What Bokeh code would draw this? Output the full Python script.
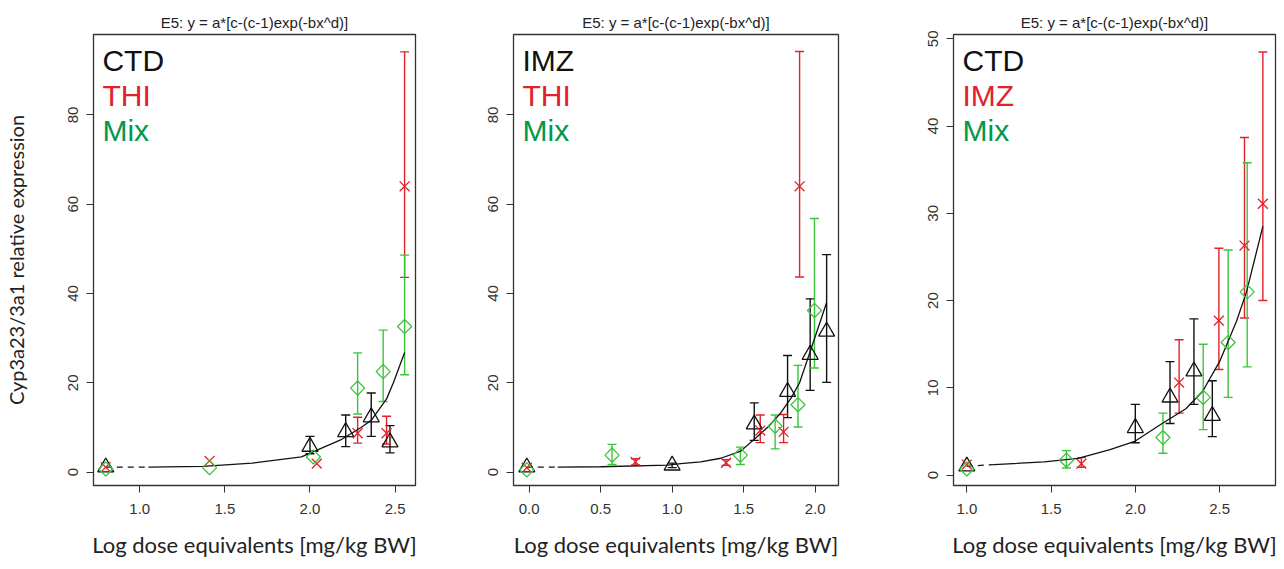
from bokeh.plotting import figure
from bokeh.layouts import row
from bokeh.models import (Range1d, FixedTicker, PrintfTickFormatter, Whisker, TeeHead,
                          ColumnDataSource, Label)
from bokeh.embed import file_html
from bokeh.resources import INLINE

TITLE = "E5: y = a*[c-(c-1)exp(-bx^d)]"
XLABEL = "Log dose equivalents [mg/kg BW]"
YLABEL = "Cyp3a23/3a1 relative expression"

# ---------------- Panel 1: CTD / THI / Mix ----------------
p1_names = ["CTD", "THI", "Mix"]
p1_ctd_x = [0.80, 2.00, 2.21, 2.36, 2.47]
p1_ctd_y = [1.1, 5.7, 9.0, 12.3, 6.7]
p1_ctd_lo = [1.1, 4.1, 5.7, 8.0, 4.3]
p1_ctd_hi = [1.1, 8.0, 12.8, 17.7, 10.4]
p1_thi_x = [0.80, 1.41, 2.04, 2.28, 2.45, 2.556]
p1_thi_y = [1.1, 2.5, 1.9, 8.7, 8.7, 64.0]
p1_thi_lo = [1.1, 2.5, 1.9, 6.5, 6.3, 43.6]
p1_thi_hi = [1.1, 2.5, 1.9, 12.3, 12.5, 94.1]
p1_mix_x = [0.80, 1.41, 2.02, 2.28, 2.43, 2.556]
p1_mix_y = [0.7, 1.0, 3.4, 18.8, 22.5, 32.6]
p1_mix_lo = [0.7, 1.0, 3.4, 13.0, 15.8, 21.8]
p1_mix_hi = [0.7, 1.0, 3.4, 26.7, 31.8, 48.6]
p1_curve_x = [0.80, 1.05, 1.37, 1.66, 1.95, 2.18, 2.30, 2.36, 2.45, 2.49, 2.556]
p1_curve_y = [1.1, 1.1, 1.3, 2.0, 3.4, 7.2, 10.0, 11.6, 16.4, 20.0, 26.8]
p1_xticks = [1.0, 1.5, 2.0, 2.5]
p1_yticks = [0, 20, 40, 60, 80]

# ---------------- Panel 2: IMZ / THI / Mix ----------------
p2_names = ["IMZ", "THI", "Mix"]
p2_imz_x = [-0.016, 1.00, 1.574, 1.807, 1.965, 2.08]
p2_imz_y = [1.1, 1.5, 10.7, 18.0, 26.3, 31.5]
p2_imz_lo = [1.1, 1.0, 7.1, 12.2, 18.3, 20.1]
p2_imz_hi = [1.1, 2.0, 15.5, 26.1, 38.8, 48.7]
p2_thi_x = [-0.016, 0.744, 1.377, 1.616, 1.779, 1.891]
p2_thi_y = [1.0, 2.3, 2.1, 9.3, 9.0, 64.0]
p2_thi_lo = [1.0, 1.6, 1.5, 6.6, 6.6, 43.7]
p2_thi_hi = [1.0, 3.0, 2.8, 12.8, 12.9, 94.2]
p2_mix_x = [-0.016, 0.58, 1.477, 1.72, 1.88, 1.995]
p2_mix_y = [0.5, 3.8, 3.8, 10.3, 15.1, 36.2]
p2_mix_lo = [0.5, 1.7, 1.7, 5.2, 10.1, 23.3]
p2_mix_hi = [0.5, 6.2, 5.6, 12.8, 23.9, 56.8]
p2_curve_x = [-0.016, 0.20, 0.50, 0.97, 1.06, 1.20, 1.34, 1.48, 1.59, 1.68, 1.76, 1.83, 1.891, 1.965, 2.08]
p2_curve_y = [1.1, 1.1, 1.2, 1.57, 1.9, 2.3, 3.1, 4.7, 7.8, 10.4, 13.3, 16.5, 20.0, 27.0, 38.0]
p2_xticks = [0.0, 0.5, 1.0, 1.5, 2.0]
p2_yticks = [0, 20, 40, 60, 80]

# ---------------- Panel 3: CTD / IMZ / Mix ----------------
p3_names = ["CTD", "IMZ", "Mix"]
p3_ctd_x = [1.00, 2.00, 2.206, 2.348, 2.457]
p3_ctd_y = [1.0, 5.4, 8.9, 11.9, 6.8]
p3_ctd_lo = [1.0, 3.7, 5.9, 8.1, 4.4]
p3_ctd_hi = [1.0, 8.1, 13.0, 17.9, 10.8]
p3_imz_x = [1.00, 1.68, 2.26, 2.496, 2.648, 2.757]
p3_imz_y = [1.2, 1.3, 10.6, 17.7, 26.3, 31.1]
p3_imz_lo = [1.2, 0.9, 7.1, 12.1, 18.0, 20.0]
p3_imz_hi = [1.2, 2.0, 15.5, 26.0, 38.7, 48.5]
p3_mix_x = [1.00, 1.591, 2.164, 2.403, 2.551, 2.664]
p3_mix_y = [0.7, 1.7, 4.3, 8.9, 15.2, 21.0]
p3_mix_lo = [0.7, 0.8, 2.5, 5.2, 8.9, 12.4]
p3_mix_hi = [0.7, 2.8, 7.1, 15.0, 25.8, 35.8]
p3_curve_x = [1.00, 1.16, 1.46, 1.66, 1.85, 2.00, 2.15, 2.30, 2.40, 2.50, 2.60, 2.66, 2.757]
p3_curve_y = [1.0, 1.2, 1.5, 1.9, 2.9, 3.9, 5.8, 7.6, 9.6, 13.0, 17.6, 21.0, 28.5]
p3_xticks = [1.0, 1.5, 2.0, 2.5]
p3_yticks = [0, 10, 20, 30, 40, 50]

BLACK = "#111111"
RED = "#E3212B"
GREEN = "#3DC43D"
GREEN_TXT = "#00984A"
TICK_FONT = "Liberation Sans"


def make_panel(names, series, curve_x, curve_y, xr, yr, xticks, yticks,
               bl, br, fw, ylabel=None):
    fh = 451
    bt, bb = 34, 80
    p = figure(width=bl + fw + br, height=bt + fh + bb, output_backend="svg",
               toolbar_location=None, x_range=Range1d(*xr), y_range=Range1d(*yr),
               min_border_left=bl, min_border_right=br, min_border_top=bt,
               min_border_bottom=bb, title=TITLE)
    p.title.text_font = "Liberation Sans"
    p.title.text_font_size = "15px"
    p.title.text_font_style = "normal"
    p.title.text_color = "#222222"
    p.title.align = "center"
    p.title.standoff = 8
    p.xgrid.visible = False
    p.ygrid.visible = False
    p.outline_line_color = "#333333"
    p.outline_line_width = 1.3
    p.background_fill_color = "white"
    p.border_fill_color = "white"

    for ax, ticks, fmt in ((p.xaxis[0], xticks, "%.1f"), (p.yaxis[0], yticks, "%d")):
        ax.ticker = FixedTicker(ticks=ticks)
        ax.formatter = PrintfTickFormatter(format=fmt)
        ax.axis_line_color = None
        ax.major_tick_in = 0
        ax.major_tick_out = 7
        ax.major_tick_line_color = "#333333"
        ax.minor_tick_line_color = None
        ax.major_label_text_font = TICK_FONT
        ax.major_label_text_font_size = "15px"
        ax.major_label_text_color = "#333333"
    p.xaxis.major_label_standoff = 11
    p.yaxis.major_label_standoff = 8
    p.yaxis.major_label_orientation = "vertical"
    p.xaxis.axis_label = XLABEL
    p.xaxis.axis_label_text_font = "Lato"
    p.xaxis.axis_label_text_font_size = "22px"
    p.xaxis.axis_label_text_font_style = "normal"
    p.xaxis.axis_label_text_color = "#222222"
    p.xaxis.axis_label_standoff = 14
    if ylabel:
        p.yaxis.axis_label = ylabel
        p.yaxis.axis_label_text_font = "Lato"
        p.yaxis.axis_label_text_font_size = "20px"
        p.yaxis.axis_label_text_font_style = "normal"
        p.yaxis.axis_label_text_color = "#222222"
        p.yaxis.axis_label_standoff = 38

    # fitted curve: dashed first segment, then solid
    p.line(curve_x[:2], curve_y[:2], line_color=BLACK, line_width=1.3, line_dash="6 5")
    p.line(curve_x[1:], curve_y[1:], line_color=BLACK, line_width=1.3)

    colors = [BLACK, RED, GREEN]
    for (x, y, lo, hi), col, kind in zip(series, colors, ["triangle", "x", "diamond"]):
        idx = [i for i in range(len(x)) if hi[i] > lo[i]]
        src = ColumnDataSource(dict(base=[x[i] for i in idx], lower=[lo[i] for i in idx],
                                    upper=[hi[i] for i in idx]))
        w = Whisker(source=src, base="base", lower="lower", upper="upper",
                    dimension="height", line_color=col, line_width=1.4,
                    upper_head=TeeHead(size=9, line_color=col, line_width=1.4),
                    lower_head=TeeHead(size=9, line_color=col, line_width=1.4))
        p.add_layout(w)
        if kind == "triangle":
            p.scatter(x, y, marker="triangle", size=16, fill_color=None,
                      line_color=col, line_width=1.3)
        elif kind == "x":
            p.scatter(x, y, marker="x", size=14, line_color=col, line_width=1.3)
        else:
            p.scatter(x, y, marker="square", size=10, angle=0.785398, fill_color=None,
                      line_color=col, line_width=1.3)

    txt_cols = [BLACK, RED, GREEN_TXT]
    for k, (nm, tc) in enumerate(zip(names, txt_cols)):
        lx = xr[0] + (9 / fw) * (xr[1] - xr[0])
        ly = yr[1] - ((9 + 35 * k) / fh) * (yr[1] - yr[0])
        p.add_layout(Label(x=lx, y=ly, text=nm, text_font="Liberation Sans",
                           text_font_size="30px", text_color=tc, text_baseline="top"))
    return p


p1 = make_panel(p1_names,
                [(p1_ctd_x, p1_ctd_y, p1_ctd_lo, p1_ctd_hi),
                 (p1_thi_x, p1_thi_y, p1_thi_lo, p1_thi_hi),
                 (p1_mix_x, p1_mix_y, p1_mix_lo, p1_mix_hi)],
                p1_curve_x, p1_curve_y, (0.728, 2.62), (-3.0, 98.0),
                p1_xticks, p1_yticks, 90, 40, 325, ylabel=YLABEL)
p2 = make_panel(p2_names,
                [(p2_imz_x, p2_imz_y, p2_imz_lo, p2_imz_hi),
                 (p2_thi_x, p2_thi_y, p2_thi_lo, p2_thi_hi),
                 (p2_mix_x, p2_mix_y, p2_mix_lo, p2_mix_hi)],
                p2_curve_x, p2_curve_y, (-0.109, 2.163), (-3.0, 98.0),
                p2_xticks, p2_yticks, 58, 40, 325)
p3 = make_panel(p3_names,
                [(p3_ctd_x, p3_ctd_y, p3_ctd_lo, p3_ctd_hi),
                 (p3_imz_x, p3_imz_y, p3_imz_lo, p3_imz_hi),
                 (p3_mix_x, p3_mix_y, p3_mix_lo, p3_mix_hi)],
                p3_curve_x, p3_curve_y, (0.921, 2.832), (-1.2, 50.5),
                p3_xticks, p3_yticks, 75, 4, 322)

layout = row(p1, p2, p3, spacing=0)
open("out.html", "w").write(file_html(layout, INLINE))
